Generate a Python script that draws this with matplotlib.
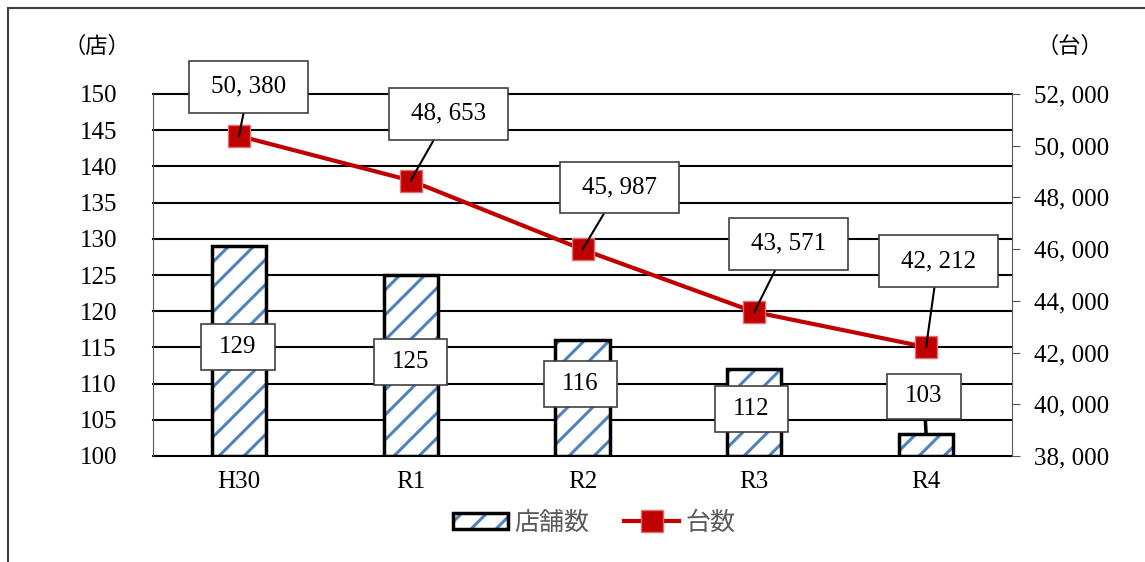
import matplotlib
matplotlib.use("Agg")
import matplotlib.pyplot as plt
from matplotlib.backend_bases import GraphicsContextBase
from matplotlib.patches import Patch, Rectangle
from matplotlib.lines import Line2D
from matplotlib.legend_handler import HandlerTuple
from matplotlib.ticker import FuncFormatter
import numpy as np

# data
years = ["H30", "R1", "R2", "R3", "R4"]
shops = [129, 125, 116, 112, 103]          # 店舗数 (left axis)
units = [50380, 48653, 45987, 43571, 42212]  # 台数 (right axis)

# label offsets in pixels (layout only)
shop_offsets = [(-1, -101), (0, -87), (-2, -44), (-3, -40), (-2, 38)]
unit_offsets = [(10, 49), (38, 67), (37, 62), (34, 68), (12, 86)]


def fmt(v):
    # the original font draws a wide comma, "50, 380"
    return f"{int(v):,}".replace(",", ", ")


# slightly denser hatch stripes than matplotlib's default (6)
_hatch_path = GraphicsContextBase.get_hatch_path
GraphicsContextBase.get_hatch_path = lambda self, density=8: _hatch_path(self, density)

plt.rcParams['font.family'] = ['Liberation Serif', 'Noto Sans CJK JP']
plt.rcParams['hatch.linewidth'] = 2.2

BLUE = "#4F81BD"
RED = "#C00000"

fig = plt.figure(figsize=(11.45, 5.62), dpi=100)
ax = fig.add_axes([153 / 1145, 1 - 456 / 562, 859 / 1145, 362 / 562])
ax2 = ax.twinx()

x = np.arange(len(years))
heights = np.array(shops) - 100

# bars: hatch layer then black outline
ax.bar(x, heights, bottom=100, width=0.315, color="white", edgecolor=BLUE,
       hatch="/", linewidth=0, zorder=2)
ax.bar(x, heights, bottom=100, width=0.315, fill=False, edgecolor="black",
       linewidth=2.5, zorder=3)

ax.set_xlim(-0.5, len(years) - 0.5)
ax.set_ylim(100, 150)
ax.set_yticks(range(100, 151, 5))
ax.set_xticks(x)
ax.set_xticklabels(years)
ax.grid(axis="y", color="black", linewidth=1.5, zorder=1)
for gl in ax.get_ygridlines():
    gl.set_clip_on(False)
ax.set_axisbelow(True)
ax.tick_params(axis="y", length=0, pad=26, labelsize=18)
ax.tick_params(axis="x", length=0, pad=11, labelsize=18)
for s in ["top", "bottom", "right"]:
    ax.spines[s].set_visible(False)
ax.spines["left"].set_color("#595959")

ax2.plot(x, units, color=RED, linewidth=3, marker="s", markersize=16,
         markerfacecolor=RED, markeredgecolor="#E07070", markeredgewidth=1,
         zorder=3)
ax2.set_ylim(38000, 52000)
ax2.set_yticks(range(38000, 52001, 2000))
ax2.yaxis.set_major_formatter(FuncFormatter(lambda v, p: fmt(v)))
ax2.tick_params(axis="y", length=6, pad=10, labelsize=18, color="#595959")
for s in ["top", "bottom", "left"]:
    ax2.spines[s].set_visible(False)
ax2.spines["right"].set_color("#595959")

unit_box = dict(boxstyle="square,pad=0.88", mutation_aspect=0.68,
                facecolor="white", edgecolor="#404040", linewidth=1.2)
shop_box = dict(boxstyle="square,pad=0.72", mutation_aspect=0.65,
                facecolor="white", edgecolor="#404040", linewidth=1.2)

for i, (v, off) in enumerate(zip(shops, shop_offsets)):
    arrow = None
    if off[1] > 0:
        arrow = dict(arrowstyle="-", color="black", lw=2.5, shrinkA=0, shrinkB=0)
    ax.annotate(str(v), xy=(i, v), xytext=off, textcoords="offset pixels",
                ha="center", va="center", fontsize=18, bbox=shop_box,
                arrowprops=arrow, zorder=5)

for i, (v, off) in enumerate(zip(units, unit_offsets)):
    ax2.annotate(fmt(v), xy=(i, v), xytext=off, textcoords="offset pixels",
                 ha="center", va="center", fontsize=18, bbox=unit_box,
                 arrowprops=dict(arrowstyle="-", color="black", lw=1.5,
                                 shrinkA=0, shrinkB=0), zorder=5)

fig.text(97 / 1145, 1 - 47 / 562, "（店）", ha="center", va="center", fontsize=16)
fig.text(1070 / 1145, 1 - 47 / 562, "（台）", ha="center", va="center", fontsize=16)

bar_handle = (Patch(facecolor="white", edgecolor=BLUE, hatch="/", linewidth=0),
              Patch(fill=False, edgecolor="black", linewidth=2.5))
line_handle = Line2D([], [], color=RED, linewidth=3, marker="s", markersize=16,
                     markerfacecolor=RED, markeredgecolor="#E07070")
fig.legend([bar_handle, line_handle], ["店舗数", "台数"],
           handler_map={tuple: HandlerTuple(ndivide=1, pad=0)},
           loc="center", bbox_to_anchor=(0.519, 1 - 523 / 562), ncol=2,
           frameon=False, fontsize=18, labelcolor="#595959",
           handlelength=2.2, handleheight=0.6, handletextpad=0.25,
           columnspacing=1.4)

# outer frame of the chart area
fig.patches.append(Rectangle((8 / 1145, -0.1), 1.2, 1.1 - 8 / 562,
                             transform=fig.transFigure, fill=False,
                             edgecolor="#404040", linewidth=1.5))

fig.savefig("out.png", dpi=100)
